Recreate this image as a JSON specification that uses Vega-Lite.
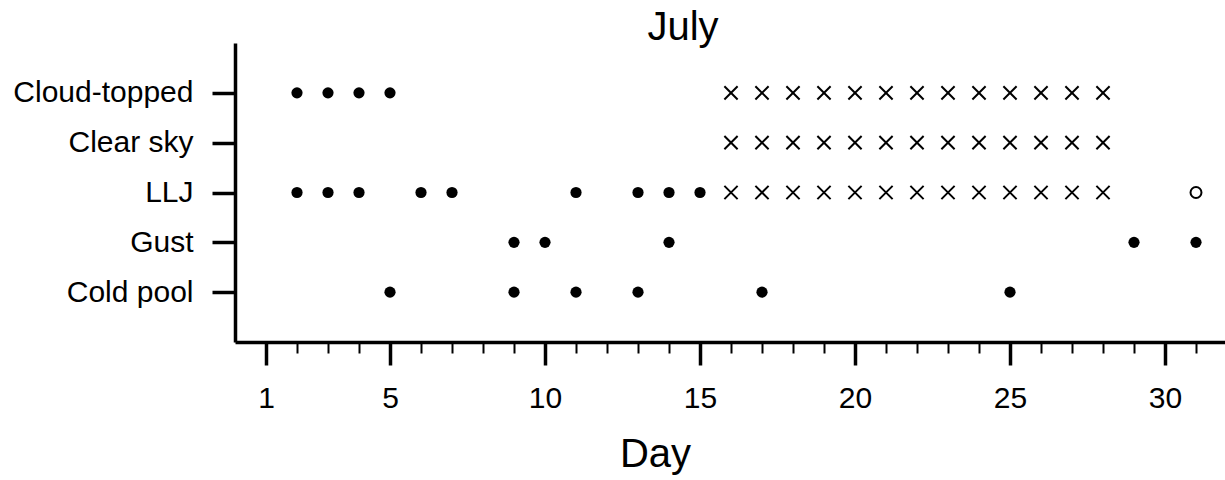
{
  "$schema": "https://vega.github.io/schema/vega-lite/v6.json",
  "width": 992,
  "height": 299,
  "autosize": "none",
  "padding": {"left": 235, "top": 43, "right": 0, "bottom": 138},
  "background": "white",
  "config": {
    "view": {"stroke": null},
    "font": "Liberation Sans",
    "axis": {"domainColor": "black", "tickColor": "black", "labelColor": "black", "titleColor": "black", "grid": false}
  },
  "title": {
    "text": "July",
    "fontSize": 40,
    "fontWeight": "normal",
    "color": "black",
    "anchor": "middle",
    "baseline": "bottom",
    "offset": 0,
    "dx": -48,
    "dy": 45
  },
  "data": {
    "values": [
      {"day": 2, "event": "Cloud-topped", "type": "dot"},
      {"day": 3, "event": "Cloud-topped", "type": "dot"},
      {"day": 4, "event": "Cloud-topped", "type": "dot"},
      {"day": 5, "event": "Cloud-topped", "type": "dot"},
      {"day": 16, "event": "Cloud-topped", "type": "cross"},
      {"day": 17, "event": "Cloud-topped", "type": "cross"},
      {"day": 18, "event": "Cloud-topped", "type": "cross"},
      {"day": 19, "event": "Cloud-topped", "type": "cross"},
      {"day": 20, "event": "Cloud-topped", "type": "cross"},
      {"day": 21, "event": "Cloud-topped", "type": "cross"},
      {"day": 22, "event": "Cloud-topped", "type": "cross"},
      {"day": 23, "event": "Cloud-topped", "type": "cross"},
      {"day": 24, "event": "Cloud-topped", "type": "cross"},
      {"day": 25, "event": "Cloud-topped", "type": "cross"},
      {"day": 26, "event": "Cloud-topped", "type": "cross"},
      {"day": 27, "event": "Cloud-topped", "type": "cross"},
      {"day": 28, "event": "Cloud-topped", "type": "cross"},
      {"day": 16, "event": "Clear sky", "type": "cross"},
      {"day": 17, "event": "Clear sky", "type": "cross"},
      {"day": 18, "event": "Clear sky", "type": "cross"},
      {"day": 19, "event": "Clear sky", "type": "cross"},
      {"day": 20, "event": "Clear sky", "type": "cross"},
      {"day": 21, "event": "Clear sky", "type": "cross"},
      {"day": 22, "event": "Clear sky", "type": "cross"},
      {"day": 23, "event": "Clear sky", "type": "cross"},
      {"day": 24, "event": "Clear sky", "type": "cross"},
      {"day": 25, "event": "Clear sky", "type": "cross"},
      {"day": 26, "event": "Clear sky", "type": "cross"},
      {"day": 27, "event": "Clear sky", "type": "cross"},
      {"day": 28, "event": "Clear sky", "type": "cross"},
      {"day": 2, "event": "LLJ", "type": "dot"},
      {"day": 3, "event": "LLJ", "type": "dot"},
      {"day": 4, "event": "LLJ", "type": "dot"},
      {"day": 6, "event": "LLJ", "type": "dot"},
      {"day": 7, "event": "LLJ", "type": "dot"},
      {"day": 11, "event": "LLJ", "type": "dot"},
      {"day": 13, "event": "LLJ", "type": "dot"},
      {"day": 14, "event": "LLJ", "type": "dot"},
      {"day": 15, "event": "LLJ", "type": "dot"},
      {"day": 16, "event": "LLJ", "type": "cross"},
      {"day": 17, "event": "LLJ", "type": "cross"},
      {"day": 18, "event": "LLJ", "type": "cross"},
      {"day": 19, "event": "LLJ", "type": "cross"},
      {"day": 20, "event": "LLJ", "type": "cross"},
      {"day": 21, "event": "LLJ", "type": "cross"},
      {"day": 22, "event": "LLJ", "type": "cross"},
      {"day": 23, "event": "LLJ", "type": "cross"},
      {"day": 24, "event": "LLJ", "type": "cross"},
      {"day": 25, "event": "LLJ", "type": "cross"},
      {"day": 26, "event": "LLJ", "type": "cross"},
      {"day": 27, "event": "LLJ", "type": "cross"},
      {"day": 28, "event": "LLJ", "type": "cross"},
      {"day": 31, "event": "LLJ", "type": "open"},
      {"day": 9, "event": "Gust", "type": "dot"},
      {"day": 10, "event": "Gust", "type": "dot"},
      {"day": 14, "event": "Gust", "type": "dot"},
      {"day": 29, "event": "Gust", "type": "dot"},
      {"day": 31, "event": "Gust", "type": "dot"},
      {"day": 5, "event": "Cold pool", "type": "dot"},
      {"day": 9, "event": "Cold pool", "type": "dot"},
      {"day": 11, "event": "Cold pool", "type": "dot"},
      {"day": 13, "event": "Cold pool", "type": "dot"},
      {"day": 17, "event": "Cold pool", "type": "dot"},
      {"day": 25, "event": "Cold pool", "type": "dot"}
    ]
  },
  "encoding": {
    "y": {
      "field": "event",
      "type": "ordinal",
      "sort": ["Cloud-topped", "Clear sky", "LLJ", "Gust", "Cold pool"],
      "scale": {"type": "point", "padding": 1},
      "axis": {
        "title": null,
        "domainWidth": 3.5,
        "tickWidth": 3.5,
        "tickSize": 23,
        "labelFontSize": 30,
        "labelLimit": 0,
        "labelPadding": 19,
        "labelAlign": "right",
        "labelBaseline": "middle"
      }
    },
    "x": {
      "field": "day",
      "type": "quantitative",
      "scale": {"domain": [0, 32], "nice": false, "zero": false},
      "axis": {
        "values": [1, 5, 10, 15, 20, 25, 30],
        "title": "Day",
        "titleFontSize": 40,
        "titleFontWeight": "normal",
        "titleX": 420,
        "titleY": 124,
        "titleAlign": "center",
        "titleBaseline": "alphabetic",
        "domainWidth": 3.5,
        "tickWidth": 3.5,
        "tickSize": 23,
        "labelFontSize": 30,
        "labelPadding": 18,
        "labelFlush": false,
        "labelOverlap": false
      }
    }
  },
  "resolve": {"axis": {"x": "independent"}},
  "layer": [
    {
      "transform": [{"filter": "datum.type === 'dot'"}],
      "mark": {"type": "point", "shape": "circle", "filled": true, "size": 125, "color": "black", "opacity": 1}
    },
    {
      "transform": [{"filter": "datum.type === 'cross'"}],
      "mark": {"type": "point", "shape": "M-1,-1L1,1M1,-1L-1,1", "filled": false, "size": 175, "strokeWidth": 2, "color": "black", "opacity": 1},
      "encoding": {
        "x": {
          "field": "day",
          "type": "quantitative",
          "scale": {"domain": [0, 32], "nice": false, "zero": false},
          "axis": {
            "orient": "bottom",
            "values": [2, 3, 4, 6, 7, 8, 9, 11, 12, 13, 14, 16, 17, 18, 19, 21, 22, 23, 24, 26, 27, 28, 29, 31],
            "labels": false,
            "domain": false,
            "title": null,
            "tickWidth": 2,
            "tickSize": 11
          }
        }
      }
    },
    {
      "transform": [{"filter": "datum.type === 'open'"}],
      "mark": {"type": "point", "shape": "circle", "filled": false, "size": 120, "strokeWidth": 2, "color": "black", "opacity": 1},
      "encoding": {
        "x": {"field": "day", "type": "quantitative", "axis": null}
      }
    }
  ]
}
